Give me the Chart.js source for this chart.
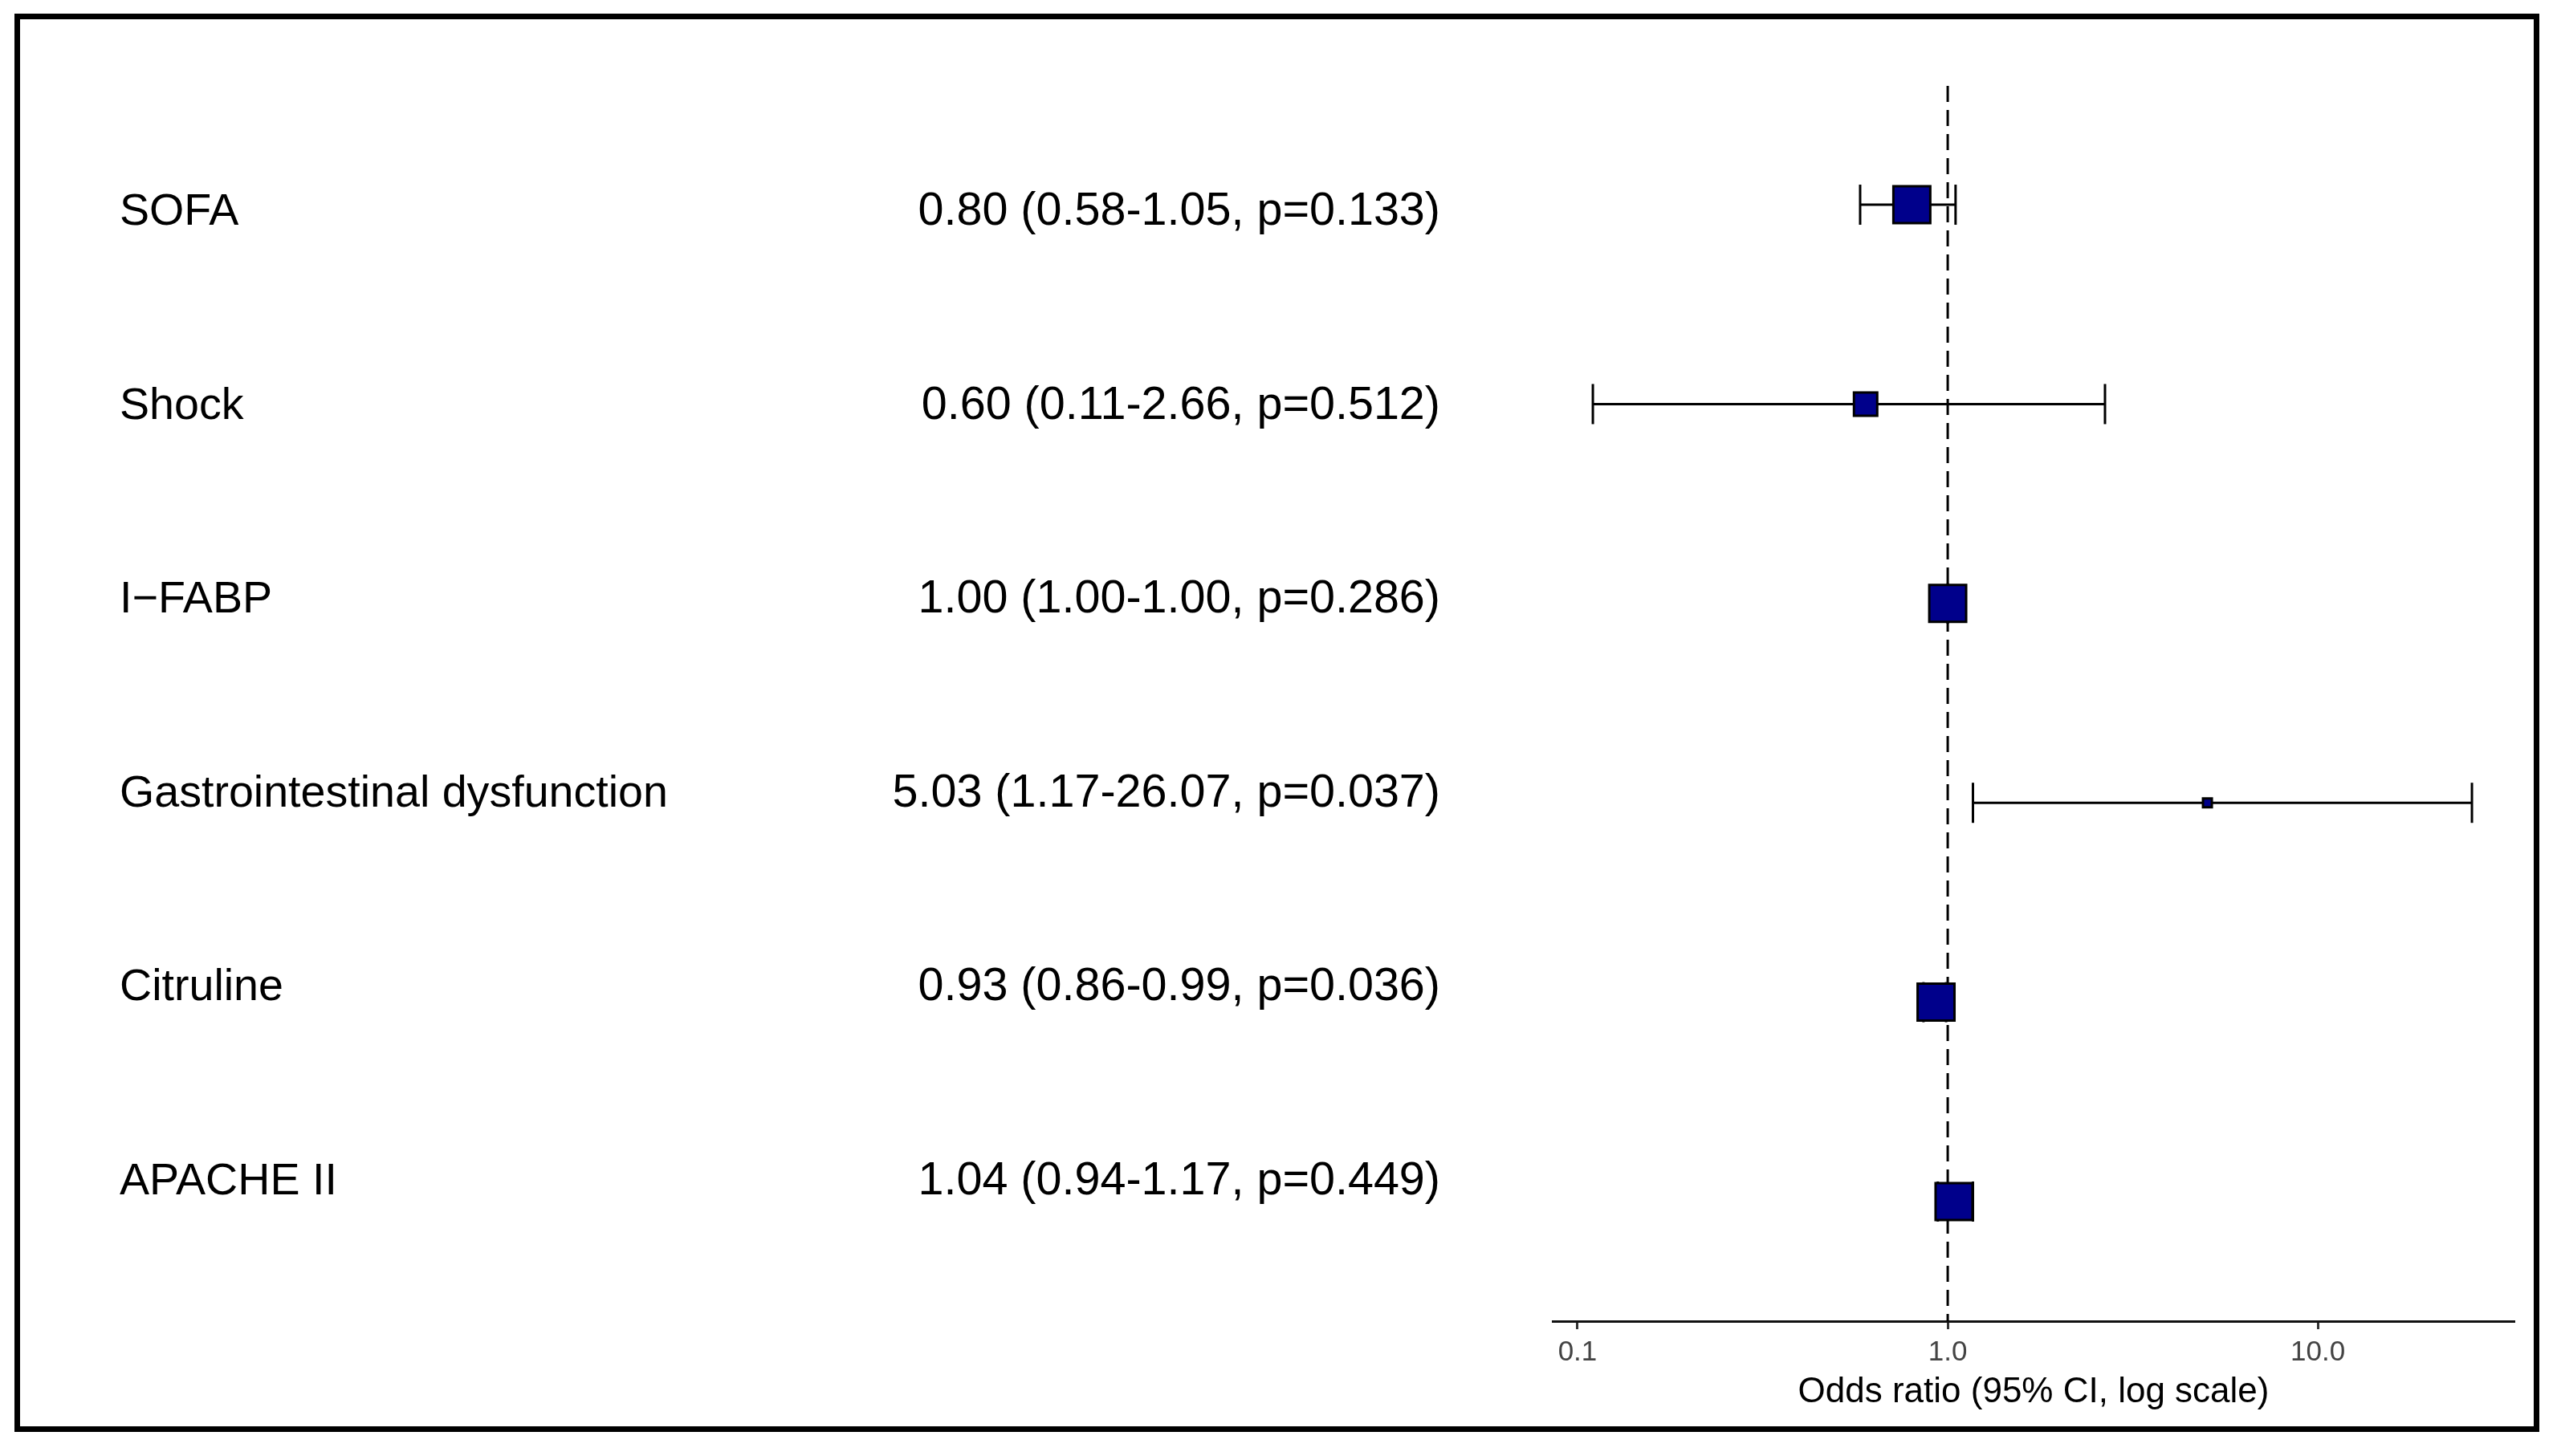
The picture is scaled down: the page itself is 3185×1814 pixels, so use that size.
<!DOCTYPE html>
<html>
<head>
<meta charset="utf-8">
<title>Forest plot</title>
<script src="https://cdn.jsdelivr.net/npm/chart.js@4.4.1/dist/chart.umd.min.js"></script>
<style>
    html, body { margin: 0; padding: 0; background: #fff; }
    canvas { display: block; }
</style>
</head>
<body>
<canvas id="forest" width="3185" height="1814"></canvas>
<script>
// data
const variables = ["SOFA", "Shock", "I\u2212FABP", "Gastrointestinal dysfunction", "Citruline", "APACHE II"];
const oddsRatio = [0.80, 0.60, 1.00, 5.03, 0.93, 1.04];
const ciLower = [0.58, 0.11, 1.00, 1.17, 0.86, 0.94];
const ciUpper = [1.05, 2.66, 1.00, 26.07, 0.99, 1.17];
const pValues = [0.133, 0.512, 0.286, 0.037, 0.036, 0.449];
const tickValues = [0.1, 1, 10];
const tickLabels = ["0.1", "1.0", "10.0"];
const axisTitle = "Odds ratio (95% CI, log scale)";

// box half-sizes (style only)
const boxRadius = [32.5, 20.5, 32.5, 7.8, 32.5, 32.5];

const fontFamily = "'Liberation Sans', Arial, sans-serif";
Chart.defaults.font.family = fontFamily;

function summary(i) {
    return oddsRatio[i].toFixed(2) + " (" + ciLower[i].toFixed(2) + "-" +
        ciUpper[i].toFixed(2) + ", p=" + pValues[i].toFixed(3) + ")";
}

// left text columns + outer frame
const textColumns = {
    id: "textColumns",
    afterDraw(chart) {
        const ctx = chart.ctx;
        const yt = chart.scales.yText;
        ctx.save();
        ctx.fillStyle = "#000";
        ctx.textBaseline = "alphabetic";
        variables.forEach((name, i) => {
            const y = yt.getPixelForValue(i);
            ctx.font = "55.6px " + fontFamily;
            ctx.textAlign = "left";
            ctx.fillText(name, 149, y);
            ctx.font = "57.5px " + fontFamily;
            ctx.textAlign = "right";
            ctx.fillText(summary(i), 1794, y);
        });
        ctx.lineWidth = 7;
        ctx.strokeStyle = "#000";
        ctx.strokeRect(21.5, 20.5, 3138, 1760);
        ctx.restore();
    },
};

const rowMin = -0.596, rowMax = 5.6;
const rows = variables.map((_, i) => i);

const boxSet = {
    label: "OR",
    data: rows.map((i) => ({ x: oddsRatio[i], y: i })),
    pointStyle: "rect",
    pointRadius: boxRadius,
    backgroundColor: "#00008B",
    borderColor: "#000",
    borderWidth: 3,
    showLine: false,
};

const ciSets = rows.map((i) => ({
    label: "CI " + variables[i],
    data: [
        { x: ciLower[i], y: i },
        { x: ciUpper[i], y: i },
    ],
    showLine: true,
    borderColor: "#000",
    borderWidth: 3,
    pointStyle: "line",
    rotation: 90,
    pointRadius: 25,
    pointBorderWidth: 3,
    pointBorderColor: "#000",
    pointBackgroundColor: "#000",
}));

const refLine = {
    label: "ref",
    data: [
        { x: 1, y: rowMin },
        { x: 1, y: rowMax },
    ],
    showLine: true,
    borderColor: "#000",
    borderWidth: 3,
    borderDash: [20, 10],
    pointRadius: 0,
};

new Chart(document.getElementById("forest").getContext("2d"), {
    type: "scatter",
    data: { datasets: [boxSet, ...ciSets, refLine] },
    plugins: [textColumns],
    options: {
        responsive: false,
        animation: false,
        devicePixelRatio: 1,
        events: [],
        layout: { padding: { left: 1934, right: 53, top: 107, bottom: 0 } },
        plugins: { legend: { display: false }, tooltip: { enabled: false } },
        scales: {
            x: {
                type: "logarithmic",
                min: Math.pow(10, -1.0672),
                max: Math.pow(10, 1.531),
                afterBuildTicks: (s) => {
                    s.ticks = tickValues.map((v) => ({ value: v }));
                },
                afterFit: (s) => {
                    s.height = 168;
                },
                ticks: {
                    callback: (v, i) => tickLabels[i],
                    color: "#444",
                    font: { size: 35 },
                    padding: 8,
                    maxRotation: 0,
                    autoSkip: false,
                },
                grid: {
                    display: true,
                    drawOnChartArea: false,
                    drawTicks: true,
                    tickLength: 10,
                    tickWidth: 3,
                    tickColor: "#333",
                },
                border: { display: true, color: "#111", width: 3 },
                title: {
                    display: true,
                    text: axisTitle,
                    color: "#000",
                    font: { size: 44 },
                    padding: { top: 0, bottom: 53 },
                },
            },
            y: {
                type: "linear",
                reverse: true,
                min: rowMin,
                max: rowMax,
                display: false,
            },
            yText: {
                type: "linear",
                axis: "y",
                reverse: true,
                min: -0.716,
                max: 5.654,
                display: false,
            },
        },
    },
});
</script>
</body>
</html>
